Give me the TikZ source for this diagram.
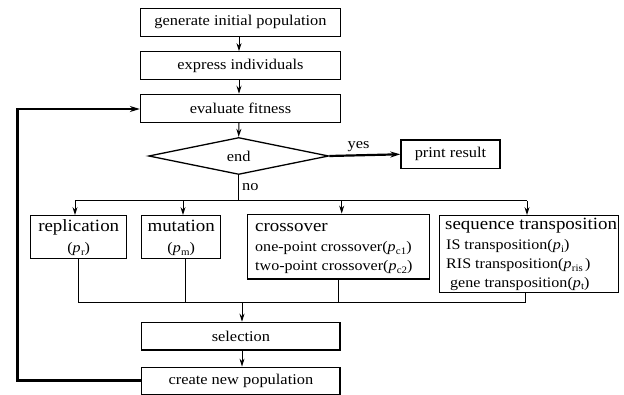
\documentclass[tikz,border=0pt]{standalone}
\usepackage{fontspec}
\usepackage{graphicx}
\setmainfont{Liberation Serif}[FakeStretch=1.1]
\usetikzlibrary{shapes.geometric,arrows.meta}
\newcommand\pvar[1]{\textit{p}\kern0.3pt\raisebox{-0.35ex}{\scalebox{0.68}{#1}}}
\tikzset{
  box/.style={draw, line width=1.3pt, inner sep=0pt, minimum height=28pt, font=\fontsize{14.9}{16}\selectfont},
  hdr/.style={inner sep=0pt, anchor=base, font=\fontsize{17.2}{19}\selectfont},
  sub/.style={inner sep=0pt, anchor=base, font=\fontsize{14.6}{16}\selectfont},
  conn/.style={line width=1pt, -{Stealth[length=8pt,width=5pt]}},
  plain/.style={line width=1pt},
  thick conn/.style={line width=2.2pt, -{Stealth[length=10pt,width=6pt]}},
  lbl/.style={inner sep=0pt, font=\fontsize{14.9}{16}\selectfont}
}
\begin{document}
\begin{tikzpicture}[x=1pt,y=-1pt]
\useasboundingbox (0,0) rectangle (624,395);
% main column
\node[box, minimum width=200pt] (gen) at (240.5,22.2) {generate initial population};
\node[box, minimum width=200pt] (expr) at (240.5,65.8) {express individuals};
\node[box, minimum width=200pt] (eval) at (240.5,108.4) {evaluate fitness};
\node[draw, line width=1.3pt, diamond, aspect=4.9, inner sep=0pt, minimum width=180pt, minimum height=37pt, font=\fontsize{14.9}{16}\selectfont] (dec) at (238.7,156) {end};
\node[box, minimum width=99pt, minimum height=28.5pt] (prt) at (450.5,154.3) {print result};
% operator boxes
\node[draw, line width=1.3pt, minimum width=96pt, minimum height=42.8pt, inner sep=0pt] (rep) at (78.7,237.1) {};
\node[draw, line width=1.3pt, minimum width=79pt, minimum height=42.8pt, inner sep=0pt] (mut) at (181.2,237.1) {};
\node[draw, line width=1.3pt, minimum width=181.6pt, minimum height=64.7pt, inner sep=0pt] (crs) at (338.5,246.65) {};
\node[draw, line width=1.3pt, minimum width=179pt, minimum height=76.6pt, inner sep=0pt] (seq) at (528.8,254) {};
\node[box, minimum width=198.3pt, minimum height=27.7pt] (sel) at (240.9,336.2) {selection};
\node[box, minimum width=198.3pt, minimum height=27.5pt] (newp) at (240.9,381) {create new population};
% texts in operator boxes
\node[hdr] (repA) at (78.7,231.7) {replication};
\node[sub] (repB) at (78.7,253) {(\pvar{r})};
\node[hdr] (mutA) at (181.2,231.7) {mutation};
\node[sub] (mutB) at (181.2,253) {(\pvar{m})};
\node[hdr, anchor=base west] (crsA) at (255,231.7) {crossover};
\node[sub, anchor=base west] (crsB) at (255,251.7) {one-point crossover(\pvar{c1})};
\node[sub, anchor=base west] (crsC) at (255,271) {two-point crossover(\pvar{c2})};
\node[hdr, anchor=base west] (seqA) at (445,230) {sequence transposition};
\node[sub, anchor=base west] (seqB) at (446,250) {IS transposition(\pvar{i})};
\node[sub, anchor=base west] (seqC) at (446,269) {RIS transposition(\pvar{ris}\,)};
\node[sub, anchor=base west] (seqD) at (450,287.5) {gene transposition(\pvar{t})};
% labels
\node[lbl] (yes) at (358.5,146.5) {yes};
\node[lbl, anchor=west] (no) at (242,187.5) {no};
% vertical arrows
\draw[conn] (gen.south -| 239,0) -- (expr.north -| 239,0);
\draw[conn] (expr.south -| 239,0) -- (eval.north -| 239,0);
\draw[conn] (eval.south -| 239,0) -- (dec.north);
\draw[thick conn] (dec.east) -- (prt.west);
% split
\coordinate (sp) at (238.7,201);
\coordinate (s1) at (75,201);
\coordinate (s2) at (183,201);
\coordinate (s3) at (341.7,201);
\coordinate (s4) at (527,201);
\draw[plain] (dec.south) -- (sp);
\draw[plain] (s1) -- (s4);
\draw[conn] (s1) -- (s1 |- rep.north);
\draw[conn] (s2) -- (s2 |- mut.north);
\draw[conn] (s3) -- (s3 |- crs.north);
\draw[conn] (s4) -- (s4 |- seq.north);
% merge
\coordinate (m1) at (78,302.5);
\coordinate (m2) at (185.7,302.5);
\coordinate (m3) at (338.5,302.5);
\coordinate (m4) at (525,302.5);
\coordinate (mc) at (242,302.5);
\draw[plain] (m1 |- rep.south) -- (m1) -- (m4) -- (m4 |- seq.south);
\draw[plain] (m2 |- mut.south) -- (m2);
\draw[plain] (m3 |- crs.south) -- (m3);
\draw[conn] (mc) -- (mc |- sel.north);
\draw[conn] (sel.south -| mc) -- (newp.north -| mc);
% feedback
\coordinate (fb1) at (17.5,380.5);
\coordinate (fb2) at (17.5,109);
\draw[line width=2.2pt, -{Stealth[length=10pt,width=6pt]}] (newp.west |- fb1) -- (fb1) -- (fb2) -- (eval.west |- fb2);
\end{tikzpicture}
\end{document}
